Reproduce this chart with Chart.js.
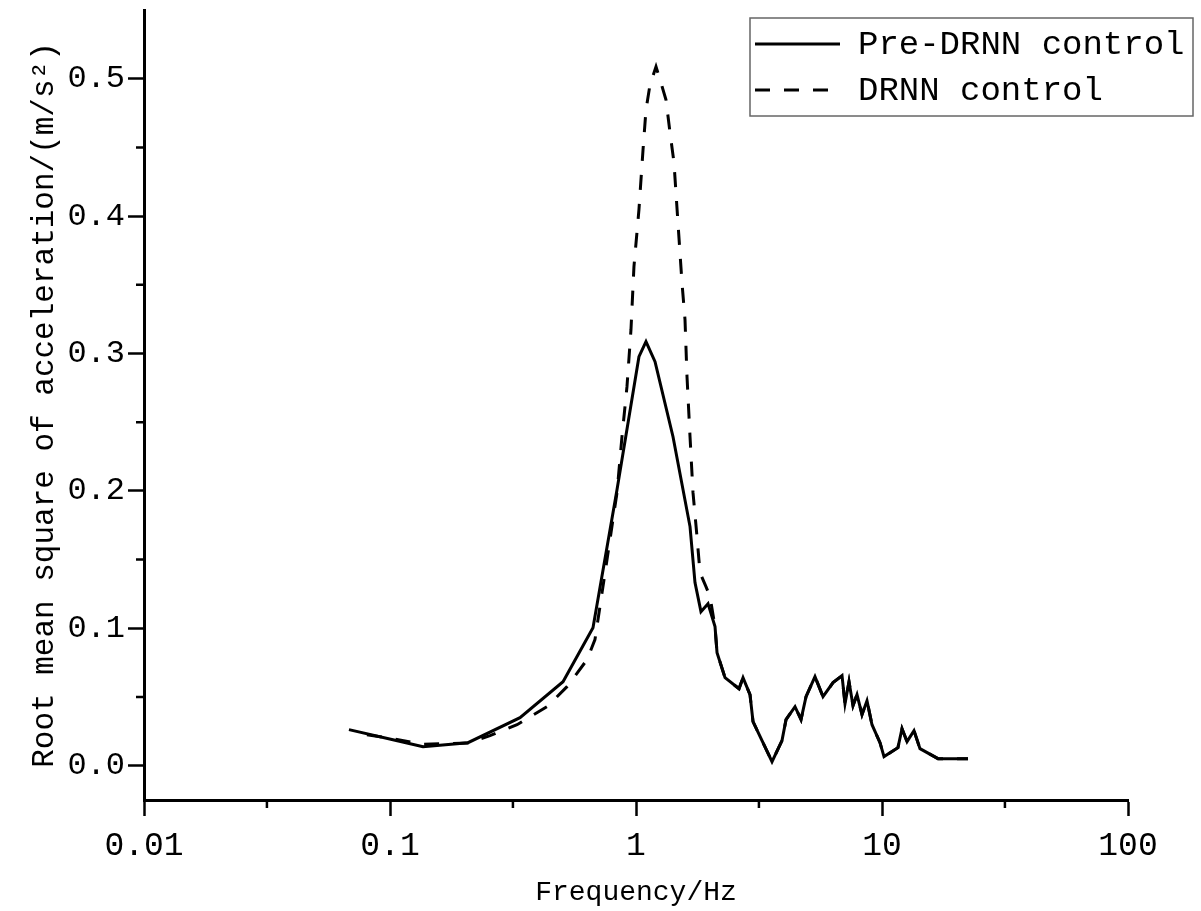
<!DOCTYPE html>
<html>
<head>
<meta charset="utf-8">
<script src="https://cdn.jsdelivr.net/npm/chart.js@4.4.1/dist/chart.umd.min.js"></script>
<style>
  html, body { margin: 0; padding: 0; background: #fff; }
  canvas { display: block; }
</style>
</head>
<body>
<canvas id="chart" width="1201" height="911"></canvas>
<script>
// values
const freqPre = [0.0681, 0.1028, 0.1362, 0.2075, 0.3377, 0.5051, 0.6686, 0.837, 1.028, 1.098, 1.195, 1.414, 1.658, 1.737, 1.837, 1.962,
  2.095, 2.135, 2.301, 2.623, 2.723, 2.907, 2.99, 3.572, 3.922, 4.072, 4.43, 4.686, 4.911, 5.34, 5.757, 6.323, 6.878, 7.073, 7.343,
  7.623, 7.914, 8.293, 8.69, 9.107, 9.815, 10.19, 11.61, 12.06, 12.64, 13.49, 14.27, 16.89, 22.37];
const rmsPre = [0.0262, 0.0189, 0.0138, 0.0167, 0.0349, 0.0611, 0.1004, 0.2009, 0.2977, 0.3086, 0.294, 0.2394, 0.174, 0.1332, 0.1121, 0.1179,
  0.1012, 0.0822, 0.064, 0.056, 0.064, 0.0517, 0.032, 0.0029, 0.0182, 0.0335, 0.0429, 0.0335, 0.0502, 0.0648, 0.0502, 0.0604, 0.0655, 0.0451, 0.0611,
  0.0437, 0.0517, 0.0371, 0.0473, 0.0298, 0.0167, 0.0066, 0.0131, 0.0269, 0.0175, 0.0255, 0.0124, 0.0051, 0.0051];

const freqDrnn = [0.0806, 0.1028, 0.1362, 0.2075, 0.255, 0.3284, 0.4347, 0.5242, 0.6323, 0.681, 0.734, 0.837, 0.877, 0.919, 0.954, 0.981,
  1.028, 1.068, 1.098, 1.14, 1.206, 1.252, 1.324, 1.375, 1.427, 1.481, 1.538, 1.582, 1.612, 1.658, 1.705, 1.77, 1.82, 1.925, 1.999,
  2.095, 2.135, 2.301, 2.623, 2.723, 2.907, 2.99, 3.572, 3.922, 4.072, 4.43, 4.686, 4.911, 5.34, 5.757, 6.323, 6.878, 7.073, 7.343,
  7.623, 7.914, 8.293, 8.69, 9.107, 9.815, 10.19, 11.61, 12.06, 12.64, 13.49, 14.27, 16.89, 22.37];
const rmsDrnn = [0.0225, 0.0195, 0.0155, 0.0165, 0.0218, 0.0298, 0.0429, 0.0575, 0.0771, 0.0917, 0.1303, 0.1987, 0.2394, 0.2758, 0.3173, 0.3632,
  0.4047, 0.4483, 0.4774, 0.4956, 0.5087, 0.4993, 0.4847, 0.4607, 0.4389, 0.3952, 0.3515, 0.3246, 0.2831, 0.2394, 0.1987, 0.1667, 0.1405, 0.1303, 0.123,
  0.1012, 0.0822, 0.064, 0.056, 0.064, 0.0517, 0.032, 0.0029, 0.0182, 0.0335, 0.0429, 0.0335, 0.0502, 0.0648, 0.0502, 0.0604, 0.0655, 0.0451, 0.0611,
  0.0437, 0.0517, 0.0371, 0.0473, 0.0298, 0.0167, 0.0066, 0.0131, 0.0269, 0.0175, 0.0255, 0.0124, 0.0051, 0.0051];

const seriesLabels = ['Pre-DRNN control', 'DRNN control'];

const xTickValues = [0.01, 0.1, 1, 10, 100];
const xTickLabels = ['0.01', '0.1', '1', '10', '100'];
const xMinorTicks = [0.0316, 0.316, 3.16, 31.6];
const yTickValues = [0, 0.1, 0.2, 0.3, 0.4, 0.5];
const yTickLabels = ['0.0', '0.1', '0.2', '0.3', '0.4', '0.5'];
const yMinorTicks = [0.05, 0.15, 0.25, 0.35, 0.45];

const FONT = "'Liberation Mono', 'DejaVu Sans Mono', monospace";

function toPoints(xs, ys) {
  return xs.map((x, i) => ({ x: x, y: ys[i] }));
}

// minor tick marks + boxed legend in the upper right
const extras = {
  id: 'extras',
  afterDraw(chart) {
    const ctx = chart.ctx;
    const xs = chart.scales.x, ys = chart.scales.y;
    ctx.save();
    ctx.strokeStyle = '#000';
    ctx.lineWidth = 2.5;
    ctx.beginPath();
    xMinorTicks.forEach(v => {
      const px = xs.getPixelForValue(v);
      ctx.moveTo(px, xs.top);
      ctx.lineTo(px, xs.top + 8);
    });
    yMinorTicks.forEach(v => {
      const py = ys.getPixelForValue(v);
      ctx.moveTo(ys.right, py);
      ctx.lineTo(ys.right - 8, py);
    });
    ctx.stroke();

    // legend
    ctx.lineWidth = 1.5;
    ctx.strokeStyle = '#666';
    ctx.strokeRect(750, 18, 443, 98);
    ctx.font = '34px ' + FONT;
    ctx.fillStyle = '#000';
    ctx.textBaseline = 'middle';
    chart.data.datasets.forEach((ds, i) => {
      const y = 44 + i * 46;
      ctx.strokeStyle = '#000';
      ctx.lineWidth = 3;
      ctx.setLineDash(ds.borderDash || []);
      ctx.beginPath();
      ctx.moveTo(755, y);
      ctx.lineTo(840, y);
      ctx.stroke();
      ctx.setLineDash([]);
      ctx.fillText(ds.label, 858, y + 1);
    });
    ctx.restore();
  }
};

new Chart(document.getElementById('chart'), {
  type: 'line',
  data: {
    datasets: [
      {
        label: seriesLabels[0],
        data: toPoints(freqPre, rmsPre),
        borderColor: '#000',
        borderWidth: 3,
        pointRadius: 0,
        tension: 0,
        fill: false
      },
      {
        label: seriesLabels[1],
        data: toPoints(freqDrnn, rmsDrnn),
        borderColor: '#000',
        borderWidth: 3,
        borderDash: [15, 14],
        pointRadius: 0,
        tension: 0,
        fill: false
      }
    ]
  },
  options: {
    responsive: false,
    animation: false,
    layout: { padding: { top: 10, right: 73, left: 0, bottom: 0 } },
    plugins: {
      legend: { display: false },
      tooltip: { enabled: false }
    },
    scales: {
      x: {
        type: 'logarithmic',
        min: 0.01,
        max: 100,
        afterBuildTicks: s => { s.ticks = xTickValues.map(v => ({ value: v })); },
        afterFit: s => { s.height = 111; s.paddingLeft = 0; s.paddingRight = 0; },
        grid: { display: true, drawOnChartArea: false, tickLength: 16, tickWidth: 2.5, tickColor: '#000' },
        border: { display: true, color: '#000', width: 3 },
        ticks: {
          color: '#000',
          padding: 10,
          maxRotation: 0,
          autoSkip: false,
          font: { family: FONT, size: 33 },
          callback: (v) => xTickLabels[xTickValues.indexOf(v)]
        },
        title: {
          display: true,
          text: 'Frequency/Hz',
          color: '#000',
          font: { family: FONT, size: 28 },
          padding: { top: 0, bottom: 2 }
        }
      },
      y: {
        min: -0.025,
        max: 0.55,
        afterBuildTicks: s => { s.ticks = yTickValues.map(v => ({ value: v })); },
        afterFit: s => { s.width = 144; s.paddingTop = 0; s.paddingBottom = 0; },
        grid: { display: true, drawOnChartArea: false, tickLength: 16, tickWidth: 2.5, tickColor: '#000' },
        border: { display: true, color: '#000', width: 3 },
        ticks: {
          color: '#000',
          padding: 3,
          font: { family: FONT, size: 32 },
          callback: (v) => yTickLabels[yTickValues.indexOf(v)]
        },
        title: {
          display: true,
          text: 'Root mean square of acceleration/(m/s²)',
          color: '#000',
          font: { family: FONT, size: 31 },
          padding: { top: 26, bottom: 0 }
        }
      }
    }
  },
  plugins: [extras]
});
</script>
</body>
</html>
